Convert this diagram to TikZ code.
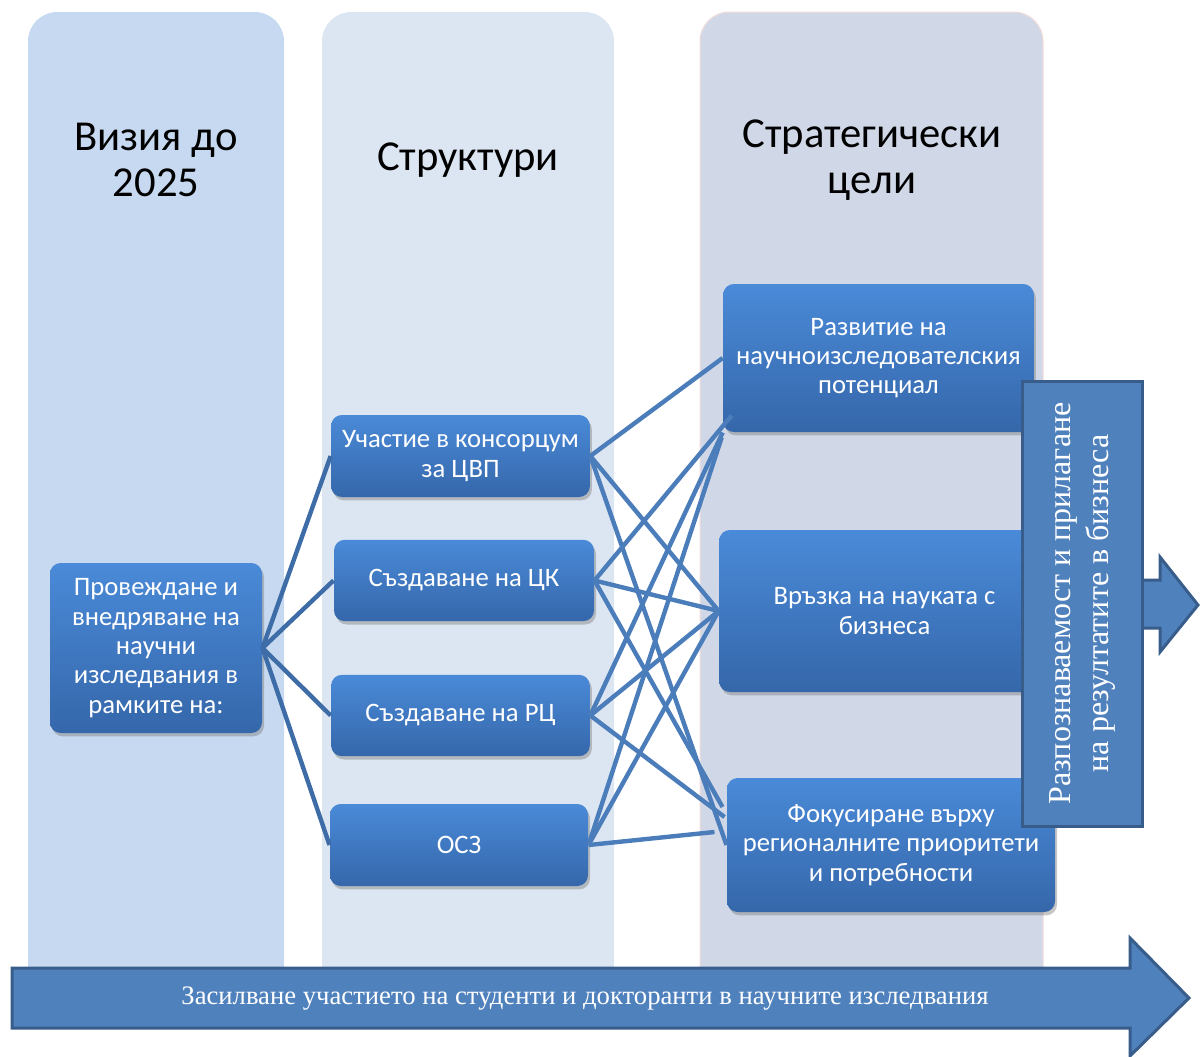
\documentclass[tikz,border=0pt]{standalone}
\usepackage{fontspec}
\setmainfont{Carlito}
\newfontfamily\timesfont{Liberation Serif}
\usetikzlibrary{shadows,calc}

\definecolor{visioncol}{HTML}{C6D9F0}
\definecolor{structcol}{HTML}{DCE6F2}
\definecolor{goalcol}{HTML}{D0D8E8}
\definecolor{goaledge}{HTML}{F2DCDB}
\definecolor{boxtop}{HTML}{4A8AD8}
\definecolor{boxbot}{HTML}{3567AA}
\definecolor{linkdark}{HTML}{3D6CA6}
\definecolor{linkblue}{HTML}{4A7DBA}
\definecolor{arrowfill}{HTML}{4F81BD}
\definecolor{arrowedge}{HTML}{385D8A}

\tikzset{every picture/.style={line width=0.75pt}}

\begin{document}
\begin{tikzpicture}[x=0.75pt,y=0.75pt,yscale=-1,xscale=1,
  head/.style={font=\fontsize{32}{34.5}\selectfont, align=center, text=black},
  task/.style={rounded corners=8pt, top color=boxtop, bottom color=boxbot, text=white,
    align=center, font=\fontsize{20}{22}\selectfont, inner sep=1pt,
    drop shadow={shadow xshift=1.5pt, shadow yshift=-2.5pt, opacity=0.45}},
  leftlink/.style={draw=linkdark, line width=3.3pt},
  crosslink/.style={draw=linkblue, line width=3.3pt},
  bigarrow/.style={fill=arrowfill, draw=arrowedge, line width=2.25pt, line join=miter}]
\path[use as bounding box] (0,0) rectangle (1200,1057);

%Columns
\fill[visioncol, rounded corners=22pt] (28,12) rectangle (284,1000);
\fill[structcol, rounded corners=22pt] (322,12) rectangle (614,1000);
\filldraw[fill=goalcol, draw=goaledge, rounded corners=22pt] (700,12) rectangle (1043,1000);

% Column titles
\node[head] (visionhead) at (156,160) {Визия до\\2025};
\node[head] (structhead) at (468,160) {Структури};
\node[head] (goalhead) at (872,160) {Стратегически\\цели};

% Boxes
\node[task, minimum width=159pt, minimum height=127.5pt] (lead) at (156,648) {Провеждане и\\внедряване на\\научни\\изследвания в\\рамките на:};

\node[task, minimum width=194pt, minimum height=61.5pt] (cvp) at (460.5,456) {Участие в консорцум\\за ЦВП};
\node[task, minimum width=195pt, minimum height=61pt] (ck) at (464,580.5) {Създаване на ЦК};
\node[task, minimum width=194pt, minimum height=61pt] (rc) at (460.5,715.5) {Създаване на РЦ};
\node[task, minimum width=193.5pt, minimum height=61.5pt] (osz) at (459,845) {ОСЗ};

\node[task, minimum width=233pt, minimum height=111pt] (potential) at (878.5,358) {Развитие на\\научноизследователския\\потенциал};
\node[task, minimum width=248pt, minimum height=121.5pt] (business) at (884.5,611) {Връзка на науката с\\бизнеса};
\node[task, minimum width=246pt, minimum height=100.5pt] (regional) at (891,845) {Фокусиране върху\\регионалните приоритети\\и потребности};

% Links from the lead box
\draw[leftlink] (lead.east) -- (cvp.west);
\draw[leftlink] (lead.east) -- (ck.west);
\draw[leftlink] (lead.east) -- (rc.west);
\draw[leftlink] (lead.east) -- (osz.west);

% Links to the goals
\draw[crosslink] (cvp.east) -- (potential.west);
\draw[crosslink] (cvp.east) -- (business.west);
\draw[crosslink] (cvp.east) -- (regional.west);
\draw[crosslink] (ck.east) -- ($(potential.south west)+(9,-17)$);
\draw[crosslink] (ck.east) -- (business.west);
\draw[crosslink] (ck.east) -- ($(regional.west)+(-4,-38)$);
\draw[crosslink] (rc.east) -- (potential.south west);
\draw[crosslink] (rc.east) -- (business.west);
\draw[crosslink] (rc.east) -- ($(regional.west)+(-2,-28)$);
\draw[crosslink] (osz.east) -- ($(potential.south west)+(-1,5)$);
\draw[crosslink] (osz.east) -- (business.west);
\draw[crosslink] (osz.east) -- ($(regional.west)+(-12,-13)$);

% Right arrow
\draw[bigarrow] (1142,580) -- (1160,580) -- (1160,557) -- (1198,605) -- (1160,652) -- (1160,628) -- (1142,628);
\node[bigarrow, rotate=90, minimum width=333.75pt, minimum height=90pt, inner sep=0pt,
  text=white, align=center, font=\timesfont\fontsize{24}{28.5}\selectfont] (uptake) at (1082,603.5)
  {Разпознаваемост и прилагане\\на резултатите в бизнеса};

% Bottom arrow
\draw[bigarrow] (12,968) -- (1130,968) -- (1130,938) -- (1189,998) -- (1130,1056) -- (1130,1028) -- (12,1028) -- cycle;
\node[text=white, font=\timesfont\fontsize{20}{24}\selectfont] (students) at (585,999)
  {Засилване участието на студенти и докторанти в научните изследвания};

\end{tikzpicture}
\end{document}
